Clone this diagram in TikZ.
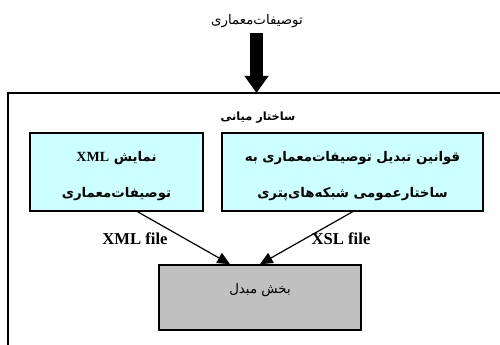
\documentclass[tikz,border=0pt]{standalone}
\usepackage{fontspec}
\setmainfont{Liberation Serif}
\newfontfamily\arabicfont[Script=Arabic]{DejaVu Sans}
\TeXXeTstate=1
\usetikzlibrary{arrows.meta}
\definecolor{specfill}{HTML}{CCFFFF}
\definecolor{convfill}{HTML}{C0C0C0}

\begin{document}
\begin{tikzpicture}[x=0.75pt,y=-0.75pt,
  box/.style={draw=black, line width=1.2pt, inner sep=0pt},
  specbox/.style={box, fill=specfill, minimum height=58.5pt, align=center,
    text height=38.5pt, text depth=0pt,
    font=\arabicfont\bfseries\fontsize{10}{27}\selectfont},
  convbox/.style={box, fill=convfill, minimum width=151.5pt, minimum height=48.75pt,
    text height=7pt, text depth=12.8pt,
    font=\arabicfont\fontsize{10}{12}\selectfont},
  flowlabel/.style={inner sep=0pt, font=\bfseries\fontsize{12.5}{14}\selectfont},
  flow/.style={line width=0.9pt, -{Triangle[length=9.5pt,width=8.5pt]}},
  bigflow/.style={line width=9.75pt, -{Triangle[length=12.75pt,width=17.25pt]}},
  frameline/.style={line width=1.2pt}
]
\useasboundingbox (0,0) rectangle (500,345);

% input description and the heavy arrow into the middle layer
\node[inner sep=0pt, font=\arabicfont\fontsize{10}{12}\selectfont] (spec) at (257,21)
  {\beginR توصیفات‌معماری\endR};
\coordinate (arrowstart) at (256.5,33);
\coordinate (frametop) at (256.5,93);
\draw[bigflow] (arrowstart) -- (frametop);

% open frame of the middle layer
\coordinate (framebl) at (8,345);
\coordinate (frametl) at (8,93);
\coordinate (frametr) at (500,93);
\draw[frameline] (framebl) -- (frametl) -- (frametr);
\node[inner sep=0pt, font=\arabicfont\bfseries\fontsize{8.5}{12}\selectfont] (layer) at (258,118)
  {\beginR ساختار میانی\endR};

% the two inputs of the converter
\node[specbox, minimum width=129.75pt] (xmlbox) at (116.5,172)
  {\beginR نمایش \beginL{\rmfamily\bfseries\fontsize{10.5}{12}\selectfont XML}\endL\endR\\
   \beginR توصیفات‌معماری\endR};
\node[specbox, minimum width=195.75pt] (xslbox) at (352.5,172)
  {\beginR قوانین تبدیل توصیفات‌معماری به\endR\\
   \beginR ساختارعمومی شبکه‌های‌پتری\endR};

% converter
\node[convbox] (conv) at (260,297.5) {\beginR بخش مبدل\endR};

% flows into the converter
\draw[flow] (xmlbox.-62.9) -- (conv.132.7);
\draw[flow] (xslbox.south) -- (conv.north);
\node[flowlabel] (xmllabel) at (135,239) {XML file};
\node[flowlabel] (xsllabel) at (341,239) {XSL file};
\end{tikzpicture}
\end{document}
